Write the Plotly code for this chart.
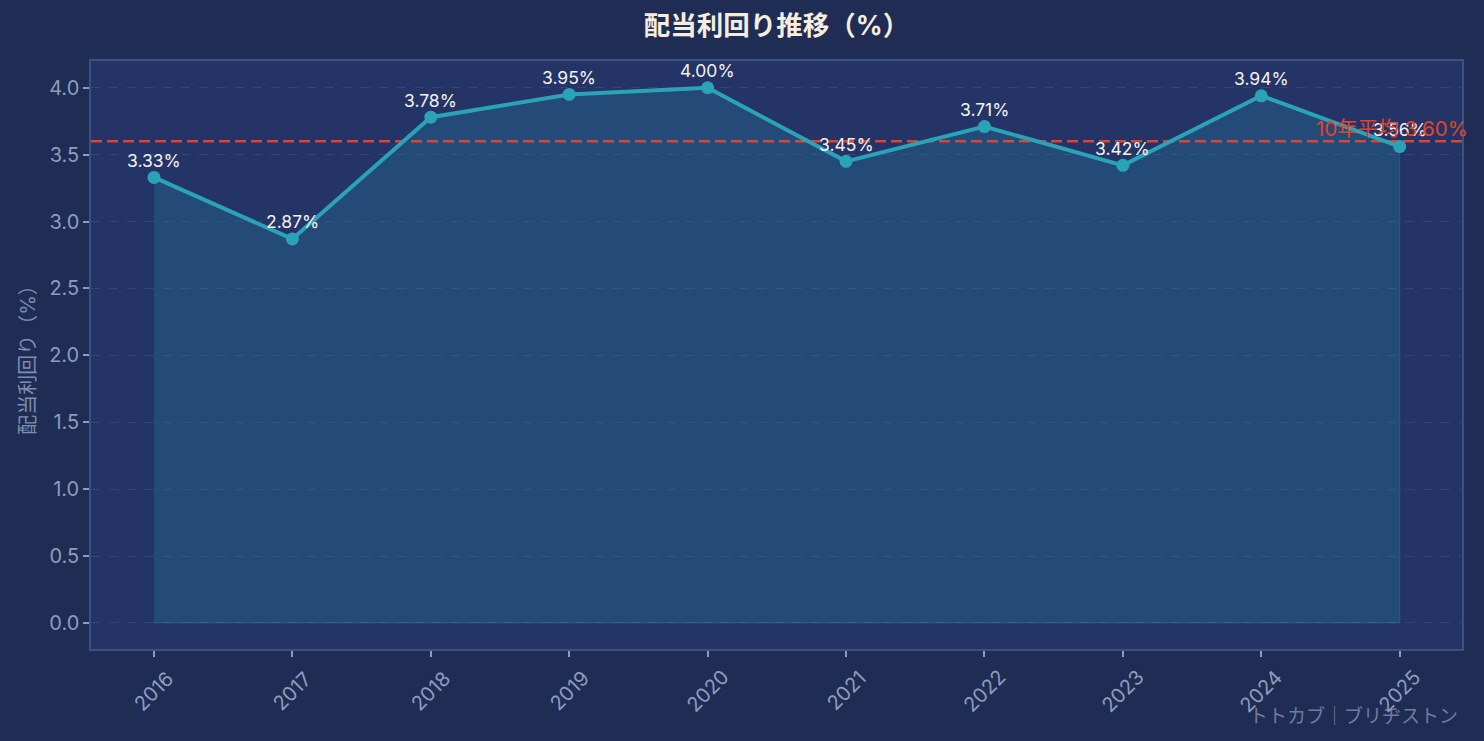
import plotly.graph_objects as go

years = [2016, 2017, 2018, 2019, 2020, 2021, 2022, 2023, 2024, 2025]
yields = [3.33, 2.87, 3.78, 3.95, 4.00, 3.45, 3.71, 3.42, 3.94, 3.56]
avg_yield = 3.60
y_ticks = [0.0, 0.5, 1.0, 1.5, 2.0, 2.5, 3.0, 3.5, 4.0]

FONT = "Inter, Noto Sans CJK JP"
CJK = "Noto Sans CJK JP"
BG = "#1f2c54"
PLOT_BG = "#243467"
LINE = "#2aa3b8"
RED = "#e0442c"
TICK = "#8d9cbd"
X0, X1 = 2015.545, 2025.45

fig = go.Figure()

# filled area under the line (closed polygon, like fill_between)
fig.add_trace(go.Scatter(
    x=years + [years[-1], years[0]],
    y=yields + [0, 0],
    fill="toself",
    fillcolor="rgba(42,163,184,0.2)",
    line=dict(color="rgba(42,163,184,0.3)", width=1),
    mode="lines",
    hoverinfo="skip",
    showlegend=False,
))

# average line
fig.add_trace(go.Scatter(
    x=[X0, X1],
    y=[avg_yield, avg_yield],
    mode="lines",
    line=dict(color=RED, width=2.5, dash="11px,5px"),
    hoverinfo="skip",
    showlegend=False,
))

# main line
fig.add_trace(go.Scatter(
    x=years, y=yields,
    mode="lines+markers",
    line=dict(color=LINE, width=4),
    marker=dict(color=LINE, size=13),
    showlegend=False,
))

for xv, yv in zip(years, yields):
    fig.add_annotation(
        x=xv, y=yv, text=f"{yv:.2f}%", showarrow=False,
        yshift=17, font=dict(family=FONT, size=17.5, color="#f2f2f2"),
    )

# rotated x tick labels, centred on each tick
for xv in years:
    fig.add_annotation(
        x=xv, y=0, yref="paper", text=str(xv), showarrow=False,
        textangle=-45, xanchor="center", yanchor="middle", yshift=-42,
        font=dict(family=FONT, size=20, color=TICK),
    )

fig.add_annotation(
    x=X1, y=avg_yield, text=f"10年平均 {avg_yield:.2f}%",
    showarrow=False, xanchor="right", yanchor="bottom", xshift=8, yshift=-2,
    font=dict(family=FONT, size=20.5, color=RED),
)

fig.add_annotation(
    x=1, y=0, xref="paper", yref="paper", xanchor="right", yanchor="middle",
    xshift=-2, yshift=-65,
    text="トトカブ｜ブリヂストン", showarrow=False,
    font=dict(family=CJK, size=19, color="rgba(140,152,180,0.75)"),
)

fig.update_layout(
    width=1484, height=741,
    paper_bgcolor=BG, plot_bgcolor=PLOT_BG,
    margin=dict(l=91, r=22, t=61, b=92),
    title=dict(
        text="<b>配当利回り推移（%）</b>", x=0.5, xref="paper", xanchor="center",
        y=1 - 26 / 741, yanchor="middle",
        font=dict(family=FONT, size=26.5, color="#f5eee0"),
    ),
    font=dict(family=FONT, color=TICK),
)

fig.update_xaxes(
    range=[X0, X1],
    tickmode="array", tickvals=years, showticklabels=False,
    ticks="outside", ticklen=6, tickcolor=TICK, tickwidth=1.5,
    showgrid=False, zeroline=False,
    showline=True, linecolor="#3e5080", linewidth=1.5, mirror=True,
)
fig.update_yaxes(
    range=[-0.195, 4.2],
    tickmode="array", tickvals=y_ticks, ticktext=[f"{v:.1f}" for v in y_ticks],
    tickfont=dict(family=FONT, size=20, color=TICK),
    ticks="outside", ticklen=6, tickcolor=TICK, tickwidth=1.5,
    showgrid=True, gridcolor="rgba(120,140,190,0.2)", griddash="dash", gridwidth=1,
    zeroline=False,
    showline=True, linecolor="#3e5080", linewidth=1.5, mirror=True,
    title=dict(text="配当利回り（%）", font=dict(family=FONT, size=20, color="#7f8db0"), standoff=8),
)

fig.write_html("out.html", config={"displayModeBar": False},
               post_script="document.body.style.margin='0';")
